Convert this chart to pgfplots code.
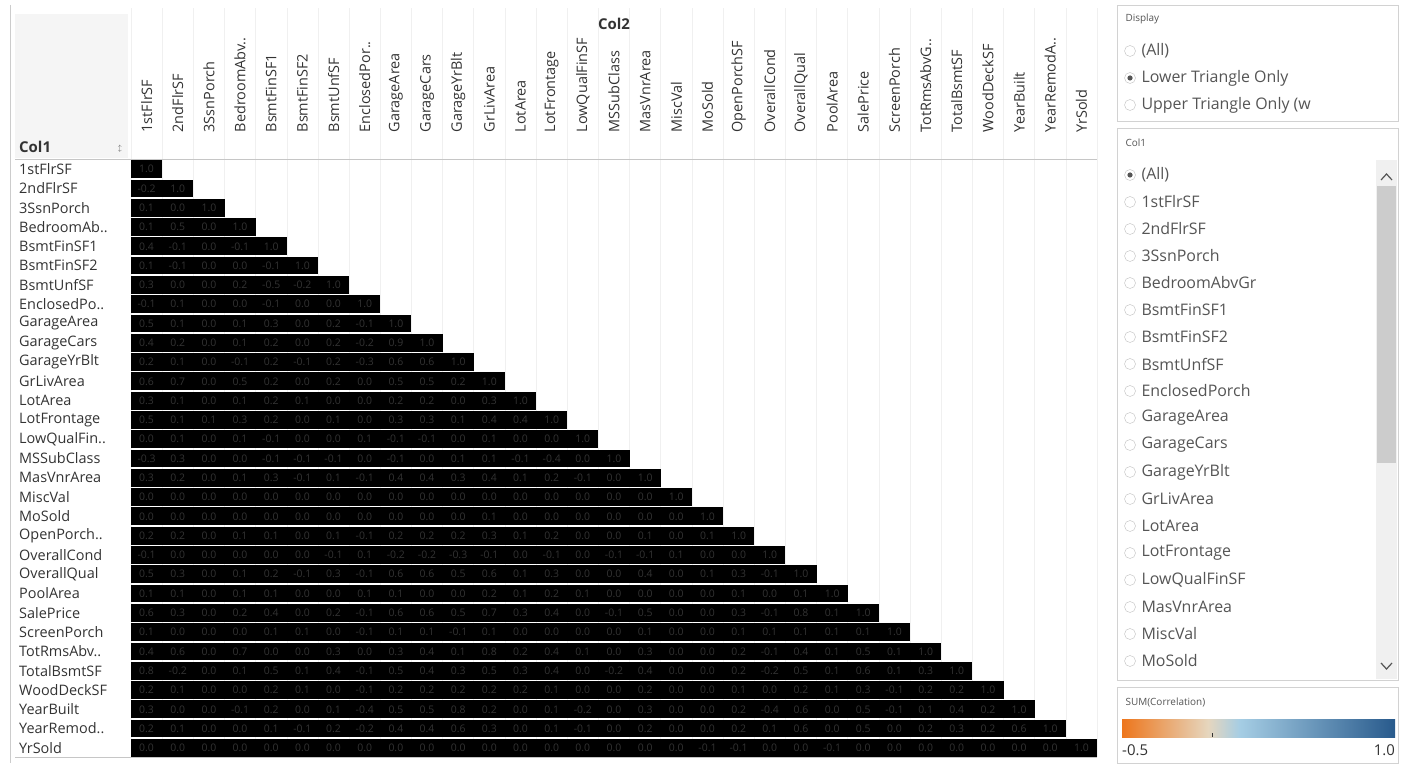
\documentclass[border=0pt]{standalone}
\usepackage{pgfplots}
\pgfplotsset{compat=1.18}
\usepackage{fontspec}
\setmainfont{Open Sans}
\definecolor{txt}{HTML}{333333}
\definecolor{lgr}{HTML}{555555}
\pgfdeclareplotmark{cell}{\pgfpathrectangle{\pgfpoint{-15.6bp}{-8.9bp}}{\pgfpoint{31.2bp}{17.8bp}}\pgfusepathqfill}
\begin{document}
\begin{tikzpicture}[x=1bp,y=1bp]
\useasboundingbox (0,0) rectangle (1404,769);
\begin{scope}[shift={(0,769)},y=-1bp]
\fill[gray!8] (15,14) rectangle (128,158);
\foreach \k in {0,...,31}{\draw[gray!12,line width=0.6bp] ({131+31.16*\k},8) -- ({131+31.16*\k},757);}
\draw[gray!45,line width=0.8bp] (15,159) -- (1097,159);
\draw[gray!45,line width=0.8bp] (15,757.5) -- (1097,757.5);
\draw[gray!40] (10,5) -- (10,763);
\node[font=\fontsize{15}{15}\selectfont\bfseries,text=txt] at (614,24) {Col2};
\node[font=\fontsize{15}{15}\selectfont\bfseries,text=txt,anchor=west,inner sep=0] at (19,147) {Col1};
\node[font=\fontsize{7}{7}\selectfont,text=lgr] at (120,149) {$\updownarrow$};
% right panels
\draw[gray!35,fill=white] (1117,5) rectangle (1398,121);
\node[anchor=west,font=\fontsize{10}{10}\selectfont,text=lgr] at (1122,19) {Display};
\foreach \yy/\tt in {51/(All),78/Lower Triangle Only,105/Upper Triangle Only (w/o di..}{
  \draw[gray!50] (1130,\yy) circle (5.5);
  \node[anchor=west,font=\fontsize{16}{16}\selectfont,text=lgr] at (1138,\yy) {\tt};}
\fill[lgr] (1130,78) circle (2.6);
\draw[gray!35,fill=white] (1117,128) rectangle (1398,680);
\node[anchor=west,font=\fontsize{10}{10}\selectfont,text=lgr] at (1122,143) {Col1};
\foreach \i/\tt in {0/(All),1/1stFlrSF,2/2ndFlrSF,3/3SsnPorch,4/BedroomAbvGr,5/BsmtFinSF1,6/BsmtFinSF2,7/BsmtUnfSF,8/EnclosedPorch,9/GarageArea,10/GarageCars,11/GarageYrBlt,12/GrLivArea,13/LotArea,14/LotFrontage,15/LowQualFinSF,16/MasVnrArea,17/MiscVal,18/MoSold}{
  \draw[gray!50] (1130,{175+27*\i}) circle (5.5);
  \node[anchor=west,font=\fontsize{16}{16}\selectfont,text=lgr] at (1138,{175+27*\i}) {\tt};}
\fill[lgr] (1130,175) circle (2.6);
\fill[gray!12] (1376,160) rectangle (1397,679);
\fill[gray!40] (1377,186) rectangle (1396,463);
\draw[lgr,line width=1.2bp] (1381,180) -- (1386.5,174) -- (1392,180);
\draw[lgr,line width=1.2bp] (1381,663) -- (1386.5,669) -- (1392,663);
\draw[gray!35,fill=white] (1117,687) rectangle (1398,763);
\node[anchor=west,font=\fontsize{10}{10}\selectfont,text=lgr] at (1122,703) {SUM(Correlation)};
\shade[left color={rgb,255:red,237;green,118;blue,28}, right color={rgb,255:red,230;green,214;blue,190}] (1122,719) rectangle (1208,737);
\shade[left color={rgb,255:red,230;green,214;blue,190}, right color={rgb,255:red,165;green,205;blue,228}] (1208,719) rectangle (1240,737);
\shade[left color={rgb,255:red,165;green,205;blue,228}, right color={rgb,255:red,40;green,90;blue,140}] (1240,719) rectangle (1395,737);
\draw[txt] (1212,733) -- (1212,737);
\node[anchor=west,font=\fontsize{15}{15}\selectfont,text=txt,inner sep=0] at (1122,750) {-0.5};
\node[anchor=east,font=\fontsize{15}{15}\selectfont,text=txt,inner sep=0] at (1395,750) {1.0};
\end{scope}
\begin{axis}[at={(131bp,11.5bp)},anchor=south west,scale only axis,
  width=966bp,height=598bp,
  xmin=-0.5,xmax=30.5,ymin=-0.5,ymax=30.5,y dir=reverse,
  axis line style={draw=none},major tick style={draw=none},
  xtick={0,...,30},ytick={0,...,30},
  xticklabel pos=upper,
  xticklabels={1stFlrSF,2ndFlrSF,3SsnPorch,BedroomAbv..,BsmtFinSF1,BsmtFinSF2,BsmtUnfSF,EnclosedPor..,GarageArea,GarageCars,GarageYrBlt,GrLivArea,LotArea,LotFrontage,LowQualFinSF,MSSubClass,MasVnrArea,MiscVal,MoSold,OpenPorchSF,OverallCond,OverallQual,PoolArea,SalePrice,ScreenPorch,TotRmsAbvG..,TotalBsmtSF,WoodDeckSF,YearBuilt,YearRemodA..,YrSold},
  yticklabels={1stFlrSF,2ndFlrSF,3SsnPorch,BedroomAb..,BsmtFinSF1,BsmtFinSF2,BsmtUnfSF,EnclosedPo..,GarageArea,GarageCars,GarageYrBlt,GrLivArea,LotArea,LotFrontage,LowQualFin..,MSSubClass,MasVnrArea,MiscVal,MoSold,OpenPorch..,OverallCond,OverallQual,PoolArea,SalePrice,ScreenPorch,TotRmsAbv..,TotalBsmtSF,WoodDeckSF,YearBuilt,YearRemod..,YrSold},
  xticklabel style={rotate=90,anchor=west,font=\fontsize{14.5}{14.5}\selectfont,text=txt,inner sep=0},
  xticklabel shift=27bp,
  yticklabel style={anchor=west,font=\fontsize{14.5}{14.5}\selectfont,text=txt,inner sep=0,xshift=-112bp},
  colormap={tab}{rgb255(0)=(237,118,28); rgb255(10)=(242,136,46); rgb255(20)=(247,150,52); rgb255(30)=(252,172,88); rgb255(40)=(253,194,122); rgb255(48)=(230,212,188); rgb255(52)=(202,212,214); rgb255(60)=(168,205,228); rgb255(70)=(140,192,225); rgb255(90)=(108,160,205); rgb255(110)=(80,130,180); rgb255(130)=(58,106,158); rgb255(150)=(42,90,140)},
  point meta min=-0.5,point meta max=1.0,
  /pgf/number format/assume math mode=true]
\addplot[scatter,only marks,mark=cell,scatter src=explicit,
  visualization depends on={value \thisrow{c}\as\cval},
  nodes near coords={\pgfmathparse{abs(\cval)<0.05?1:0}\ifdim\pgfmathresult pt>0.5pt 0.0\else\pgfmathprintnumber[fixed,fixed zerofill,precision=1]{\cval}\fi},
  every node near coord/.append style={anchor=center,font=\fontsize{10.5}{10.5}\selectfont,text=txt,inner sep=0}]
table[x=x,y=y,meta=c,row sep=\\]{
x y c\\
0 0 1\\
0 1 -0.2\\ 1 1 1\\
0 2 0.1\\ 1 2 -0.02\\ 2 2 1\\
0 3 0.1\\ 1 3 0.5\\ 2 3 -0.02\\ 3 3 1\\
0 4 0.4\\ 1 4 -0.1\\ 2 4 0.02\\ 3 4 -0.1\\ 4 4 1\\
0 5 0.1\\ 1 5 -0.1\\ 2 5 -0.02\\ 3 5 -0.02\\ 4 5 -0.1\\ 5 5 1\\
0 6 0.3\\ 1 6 0.02\\ 2 6 0.02\\ 3 6 0.2\\ 4 6 -0.5\\ 5 6 -0.2\\ 6 6 1\\
0 7 -0.1\\ 1 7 0.1\\ 2 7 -0.02\\ 3 7 0.02\\ 4 7 -0.1\\ 5 7 0.02\\ 6 7 -0.02\\ 7 7 1\\
0 8 0.5\\ 1 8 0.1\\ 2 8 0.02\\ 3 8 0.1\\ 4 8 0.3\\ 5 8 -0.02\\ 6 8 0.2\\ 7 8 -0.1\\ 8 8 1\\
0 9 0.4\\ 1 9 0.2\\ 2 9 0.02\\ 3 9 0.1\\ 4 9 0.2\\ 5 9 -0.02\\ 6 9 0.2\\ 7 9 -0.2\\ 8 9 0.9\\ 9 9 1\\
0 10 0.2\\ 1 10 0.1\\ 2 10 0.02\\ 3 10 -0.1\\ 4 10 0.2\\ 5 10 -0.1\\ 6 10 0.2\\ 7 10 -0.3\\ 8 10 0.6\\ 9 10 0.6\\ 10 10 1\\
0 11 0.6\\ 1 11 0.7\\ 2 11 0.02\\ 3 11 0.5\\ 4 11 0.2\\ 5 11 -0.02\\ 6 11 0.2\\ 7 11 0.02\\ 8 11 0.5\\ 9 11 0.5\\ 10 11 0.2\\ 11 11 1\\
0 12 0.3\\ 1 12 0.1\\ 2 12 0.02\\ 3 12 0.1\\ 4 12 0.2\\ 5 12 0.1\\ 6 12 -0.02\\ 7 12 -0.02\\ 8 12 0.2\\ 9 12 0.2\\ 10 12 -0.02\\ 11 12 0.3\\ 12 12 1\\
0 13 0.5\\ 1 13 0.1\\ 2 13 0.1\\ 3 13 0.3\\ 4 13 0.2\\ 5 13 -0.02\\ 6 13 0.1\\ 7 13 0.02\\ 8 13 0.3\\ 9 13 0.3\\ 10 13 0.1\\ 11 13 0.4\\ 12 13 0.4\\ 13 13 1\\
0 14 -0.02\\ 1 14 0.1\\ 2 14 -0.02\\ 3 14 0.1\\ 4 14 -0.1\\ 5 14 -0.02\\ 6 14 0.02\\ 7 14 0.1\\ 8 14 -0.1\\ 9 14 -0.1\\ 10 14 -0.02\\ 11 14 0.1\\ 12 14 -0.02\\ 13 14 0.02\\ 14 14 1\\
0 15 -0.3\\ 1 15 0.3\\ 2 15 -0.02\\ 3 15 -0.02\\ 4 15 -0.1\\ 5 15 -0.1\\ 6 15 -0.1\\ 7 15 -0.02\\ 8 15 -0.1\\ 9 15 -0.02\\ 10 15 0.1\\ 11 15 0.1\\ 12 15 -0.1\\ 13 15 -0.4\\ 14 15 0.02\\ 15 15 1\\
0 16 0.3\\ 1 16 0.2\\ 2 16 0.02\\ 3 16 0.1\\ 4 16 0.3\\ 5 16 -0.1\\ 6 16 0.1\\ 7 16 -0.1\\ 8 16 0.4\\ 9 16 0.4\\ 10 16 0.3\\ 11 16 0.4\\ 12 16 0.1\\ 13 16 0.2\\ 14 16 -0.1\\ 15 16 0.02\\ 16 16 1\\
0 17 -0.02\\ 1 17 0.02\\ 2 17 0.02\\ 3 17 0.02\\ 4 17 0.02\\ 5 17 0.02\\ 6 17 -0.02\\ 7 17 0.02\\ 8 17 -0.02\\ 9 17 -0.02\\ 10 17 -0.02\\ 11 17 -0.02\\ 12 17 0.02\\ 13 17 0.02\\ 14 17 -0.02\\ 15 17 -0.02\\ 16 17 -0.02\\ 17 17 1\\
0 18 0.02\\ 1 18 0.02\\ 2 18 0.02\\ 3 18 0.02\\ 4 18 -0.02\\ 5 18 -0.02\\ 6 18 0.02\\ 7 18 -0.02\\ 8 18 0.02\\ 9 18 0.02\\ 10 18 0.02\\ 11 18 0.1\\ 12 18 0.02\\ 13 18 0.02\\ 14 18 -0.02\\ 15 18 -0.02\\ 16 18 -0.02\\ 17 18 -0.02\\ 18 18 1\\
0 19 0.2\\ 1 19 0.2\\ 2 19 -0.02\\ 3 19 0.1\\ 4 19 0.1\\ 5 19 -0.02\\ 6 19 0.1\\ 7 19 -0.1\\ 8 19 0.2\\ 9 19 0.2\\ 10 19 0.2\\ 11 19 0.3\\ 12 19 0.1\\ 13 19 0.2\\ 14 19 0.02\\ 15 19 -0.02\\ 16 19 0.1\\ 17 19 -0.02\\ 18 19 0.1\\ 19 19 1\\
0 20 -0.1\\ 1 20 0.02\\ 2 20 0.02\\ 3 20 0.02\\ 4 20 -0.02\\ 5 20 0.02\\ 6 20 -0.1\\ 7 20 0.1\\ 8 20 -0.2\\ 9 20 -0.2\\ 10 20 -0.3\\ 11 20 -0.1\\ 12 20 0.02\\ 13 20 -0.1\\ 14 20 0.02\\ 15 20 -0.1\\ 16 20 -0.1\\ 17 20 0.1\\ 18 20 -0.02\\ 19 20 -0.02\\ 20 20 1\\
0 21 0.5\\ 1 21 0.3\\ 2 21 0.02\\ 3 21 0.1\\ 4 21 0.2\\ 5 21 -0.1\\ 6 21 0.3\\ 7 21 -0.1\\ 8 21 0.6\\ 9 21 0.6\\ 10 21 0.5\\ 11 21 0.6\\ 12 21 0.1\\ 13 21 0.3\\ 14 21 -0.02\\ 15 21 0.02\\ 16 21 0.4\\ 17 21 -0.02\\ 18 21 0.1\\ 19 21 0.3\\ 20 21 -0.1\\ 21 21 1\\
0 22 0.1\\ 1 22 0.1\\ 2 22 0.02\\ 3 22 0.1\\ 4 22 0.1\\ 5 22 -0.02\\ 6 22 -0.02\\ 7 22 0.1\\ 8 22 0.1\\ 9 22 0.02\\ 10 22 -0.02\\ 11 22 0.2\\ 12 22 0.1\\ 13 22 0.2\\ 14 22 0.1\\ 15 22 0.02\\ 16 22 0.02\\ 17 22 0.02\\ 18 22 -0.02\\ 19 22 0.1\\ 20 22 -0.02\\ 21 22 0.1\\ 22 22 1\\
0 23 0.6\\ 1 23 0.3\\ 2 23 0.02\\ 3 23 0.2\\ 4 23 0.4\\ 5 23 -0.02\\ 6 23 0.2\\ 7 23 -0.1\\ 8 23 0.6\\ 9 23 0.6\\ 10 23 0.5\\ 11 23 0.7\\ 12 23 0.3\\ 13 23 0.4\\ 14 23 0.02\\ 15 23 -0.1\\ 16 23 0.5\\ 17 23 -0.02\\ 18 23 0.02\\ 19 23 0.3\\ 20 23 -0.1\\ 21 23 0.8\\ 22 23 0.1\\ 23 23 1\\
0 24 0.1\\ 1 24 0.02\\ 2 24 -0.02\\ 3 24 0.02\\ 4 24 0.1\\ 5 24 0.1\\ 6 24 -0.02\\ 7 24 -0.1\\ 8 24 0.1\\ 9 24 0.1\\ 10 24 -0.1\\ 11 24 0.1\\ 12 24 0.02\\ 13 24 0.02\\ 14 24 0.02\\ 15 24 -0.02\\ 16 24 0.1\\ 17 24 0.02\\ 18 24 0.02\\ 19 24 0.1\\ 20 24 0.1\\ 21 24 0.1\\ 22 24 0.1\\ 23 24 0.1\\ 24 24 1\\
0 25 0.4\\ 1 25 0.6\\ 2 25 0.02\\ 3 25 0.7\\ 4 25 0.02\\ 5 25 -0.02\\ 6 25 0.3\\ 7 25 0.02\\ 8 25 0.3\\ 9 25 0.4\\ 10 25 0.1\\ 11 25 0.8\\ 12 25 0.2\\ 13 25 0.4\\ 14 25 0.1\\ 15 25 0.02\\ 16 25 0.3\\ 17 25 0.02\\ 18 25 0.02\\ 19 25 0.2\\ 20 25 -0.1\\ 21 25 0.4\\ 22 25 0.1\\ 23 25 0.5\\ 24 25 0.1\\ 25 25 1\\
0 26 0.8\\ 1 26 -0.2\\ 2 26 0.02\\ 3 26 0.1\\ 4 26 0.5\\ 5 26 0.1\\ 6 26 0.4\\ 7 26 -0.1\\ 8 26 0.5\\ 9 26 0.4\\ 10 26 0.3\\ 11 26 0.5\\ 12 26 0.3\\ 13 26 0.4\\ 14 26 -0.02\\ 15 26 -0.2\\ 16 26 0.4\\ 17 26 -0.02\\ 18 26 0.02\\ 19 26 0.2\\ 20 26 -0.2\\ 21 26 0.5\\ 22 26 0.1\\ 23 26 0.6\\ 24 26 0.1\\ 25 26 0.3\\ 26 26 1\\
0 27 0.2\\ 1 27 0.1\\ 2 27 -0.02\\ 3 27 0.02\\ 4 27 0.2\\ 5 27 0.1\\ 6 27 -0.02\\ 7 27 -0.1\\ 8 27 0.2\\ 9 27 0.2\\ 10 27 0.2\\ 11 27 0.2\\ 12 27 0.2\\ 13 27 0.1\\ 14 27 -0.02\\ 15 27 -0.02\\ 16 27 0.2\\ 17 27 -0.02\\ 18 27 0.02\\ 19 27 0.1\\ 20 27 -0.02\\ 21 27 0.2\\ 22 27 0.1\\ 23 27 0.3\\ 24 27 -0.1\\ 25 27 0.2\\ 26 27 0.2\\ 27 27 1\\
0 28 0.3\\ 1 28 0.02\\ 2 28 0.02\\ 3 28 -0.1\\ 4 28 0.2\\ 5 28 -0.02\\ 6 28 0.1\\ 7 28 -0.4\\ 8 28 0.5\\ 9 28 0.5\\ 10 28 0.8\\ 11 28 0.2\\ 12 28 0.02\\ 13 28 0.1\\ 14 28 -0.2\\ 15 28 0.02\\ 16 28 0.3\\ 17 28 -0.02\\ 18 28 0.02\\ 19 28 0.2\\ 20 28 -0.4\\ 21 28 0.6\\ 22 28 -0.02\\ 23 28 0.5\\ 24 28 -0.1\\ 25 28 0.1\\ 26 28 0.4\\ 27 28 0.2\\ 28 28 1\\
0 29 0.2\\ 1 29 0.1\\ 2 29 0.02\\ 3 29 -0.02\\ 4 29 0.1\\ 5 29 -0.1\\ 6 29 0.2\\ 7 29 -0.2\\ 8 29 0.4\\ 9 29 0.4\\ 10 29 0.6\\ 11 29 0.3\\ 12 29 0.02\\ 13 29 0.1\\ 14 29 -0.1\\ 15 29 0.02\\ 16 29 0.2\\ 17 29 -0.02\\ 18 29 0.02\\ 19 29 0.2\\ 20 29 0.1\\ 21 29 0.6\\ 22 29 -0.02\\ 23 29 0.5\\ 24 29 -0.02\\ 25 29 0.2\\ 26 29 0.3\\ 27 29 0.2\\ 28 29 0.6\\ 29 29 1\\
0 30 -0.02\\ 1 30 -0.02\\ 2 30 0.02\\ 3 30 -0.02\\ 4 30 0.02\\ 5 30 0.02\\ 6 30 -0.02\\ 7 30 -0.02\\ 8 30 -0.02\\ 9 30 -0.02\\ 10 30 -0.02\\ 11 30 -0.02\\ 12 30 0.02\\ 13 30 0.02\\ 14 30 -0.02\\ 15 30 -0.02\\ 16 30 -0.02\\ 17 30 0.02\\ 18 30 -0.1\\ 19 30 -0.1\\ 20 30 0.02\\ 21 30 -0.02\\ 22 30 -0.1\\ 23 30 -0.02\\ 24 30 0.02\\ 25 30 -0.02\\ 26 30 -0.02\\ 27 30 -0.02\\ 28 30 -0.02\\ 29 30 0.02\\ 30 30 1\\
};
\end{axis}
\end{tikzpicture}
\end{document}
